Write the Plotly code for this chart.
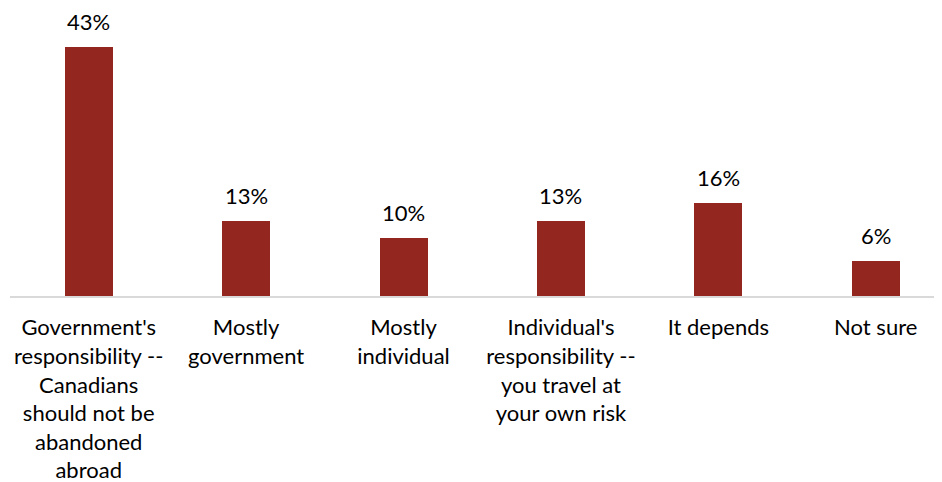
import plotly.graph_objects as go

categories = [
    "Government's<br>responsibility --<br>Canadians<br>should not be<br>abandoned<br>abroad",
    "Mostly<br>government",
    "Mostly<br>individual",
    "Individual's<br>responsibility --<br>you travel at<br>your own risk",
    "It depends",
    "Not sure",
]
values = [43, 13, 10, 13, 16, 6]
labels = ["43%", "13%", "10%", "13%", "16%", "6%"]

FONT = "Lato"
fig = go.Figure()
fig.add_trace(go.Bar(
    x=list(range(len(categories))),
    y=values,
    width=0.305,
    marker=dict(color="#93261f", line=dict(width=0)),
    hoverinfo="skip",
))
for i, (v, t) in enumerate(zip(values, labels)):
    fig.add_annotation(x=i, y=v, text=t, showarrow=False, yanchor="bottom",
                       yshift=10, font=dict(family=FONT, size=22, color="#000000"))

fig.update_layout(
    width=934, height=474,
    margin=dict(l=2, r=0, t=0, b=186, autoexpand=False),
    paper_bgcolor="white", plot_bgcolor="white",
    showlegend=False,
    font=dict(family=FONT, size=22, color="#000000"),
    bargap=0,
)
fig.update_xaxes(
    tickmode="array", tickvals=list(range(len(categories))), ticktext=categories,
    range=[-0.5, 5.421], automargin=False,
    showline=True, linecolor="#d9d9d9", linewidth=2,
    showgrid=False, zeroline=False, ticks="", ticklabelstandoff=11,
    tickangle=0,
)
fig.update_yaxes(range=[0, 49.74], visible=False, showgrid=False, zeroline=False,
                 automargin=False)
fig.write_html("out.html")
